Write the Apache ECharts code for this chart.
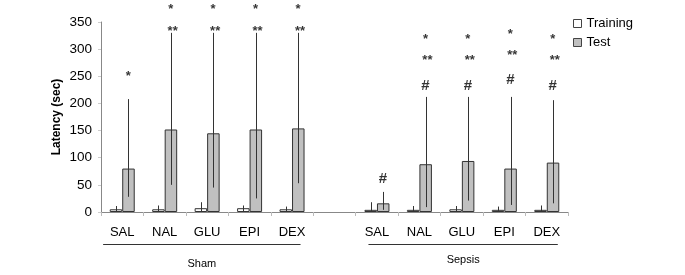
<!DOCTYPE html>
<html><head><meta charset="utf-8">
<script src="https://cdn.jsdelivr.net/npm/echarts@6/dist/echarts.min.js"></script>
<style>html,body{margin:0;padding:0;background:#fff}#c{width:685px;height:275px}</style>
</head><body><div id="c"></div>
<script>
var categories = ['SAL','NAL','GLU','EPI','DEX','','SAL','NAL','GLU','EPI','DEX'];
var training      = [5, 5, 7, 7, 5, null, 4, 4, 5, 4, 4];
var trainingLow   = [0, 0, 0, 0, 0, null, 0, 0, 0, 0, 0];
var trainingHigh  = [11, 12, 18, 12, 10, null, 18, 11, 11, 10, 12];
var test          = [80, 152, 145, 152, 154, null, 16, 88, 94, 80, 91];
var testLow       = [28, 50, 45, 25, 53, null, 4, 9, 21, 13, 16];
var testHigh      = [208, 330, 330, 330, 330, null, 37, 212, 212, 212, 206];
var star1Y = [250, 373, 373, 373, 373, null, null, 318, 318, 328, 318];
var star2Y = [null, 333, 333, 333, 333, null, null, 279, 279, 289, 279];
var hashY  = [null, null, null, null, null, null, 61, 232, 232, 243, 232];
var yTicks = [0, 50, 100, 150, 200, 250, 300, 350];
var groups = [{name:'Sham', from:0, to:4}, {name:'Sepsis', from:6, to:10}];

var chart = echarts.init(document.getElementById('c'));
var font = 'Liberation Sans, Arial, sans-serif';
var BW = 12.5;

function errSeries(low, high, offset) {
  var data = [];
  for (var i = 0; i < low.length; i++) if (low[i] != null) data.push([i, low[i], high[i]]);
  return {
    type: 'custom', silent: true, z: 5,
    data: data,
    renderItem: function (params, api) {
      var p1 = api.coord([api.value(0), api.value(1)]);
      var p2 = api.coord([api.value(0), api.value(2)]);
      var x = Math.round(p1[0] + offset) + 0.5;
      return { type: 'line', shape: {x1: x, y1: p1[1], x2: x, y2: p2[1]},
               style: {stroke: '#333', lineWidth: 1} };
    }
  };
}
function annSeries(vals, text, size, dx) {
  var data = [];
  for (var i = 0; i < vals.length; i++) if (vals[i] != null) data.push([i, vals[i]]);
  return {
    type: 'scatter', symbolSize: 0, clip: false, silent: true, data: data, z: 6,
    label: {show: true, position: 'inside', formatter: text, offset: [dx, 0],
            fontFamily: font, fontWeight: 'bold', fontSize: size, color: '#000'}
  };
}

chart.setOption({
  animation: false,
  grid: {left: 101, right: 117, top: 22, bottom: 63},
  legend: {
    orient: 'vertical', left: 568, top: 12, itemWidth: 8, itemHeight: 8, itemGap: 6,
    icon: 'rect', itemStyle: {borderWidth: 1, borderColor: '#444'},
    textStyle: {fontFamily: font, fontSize: 13, color: '#000'},
    data: ['Training', 'Test']
  },
  xAxis: {
    type: 'category', data: categories,
    axisLine: {lineStyle: {color: '#888'}},
    axisTick: {show: true, interval: 0, length: 4, lineStyle: {color: '#bbb'}},
    axisLabel: {interval: 0, margin: 14, fontFamily: font, fontSize: 13, color: '#000'}
  },
  yAxis: {
    type: 'value', min: 0, max: 350, interval: 50,
    name: 'Latency (sec)', nameLocation: 'middle', nameGap: 38, nameRotate: 90,
    nameMoveOverlap: false,
    nameTextStyle: {fontFamily: font, fontSize: 12, fontWeight: 'bold', color: '#000'},
    axisLine: {show: true, lineStyle: {color: '#888'}},
    axisTick: {show: true, length: 3, lineStyle: {color: '#ccc'}},
    splitLine: {show: false},
    axisLabel: {fontFamily: font, fontSize: 13.5, color: '#000', margin: 9,
      formatter: function (v) { return yTicks.indexOf(v) >= 0 ? String(v) : ''; }}
  },
  series: [
    {name: 'Training', type: 'bar', data: training, barWidth: BW, barGap: '0%',
     itemStyle: {color: '#fff', borderColor: '#333', borderWidth: 1}},
    {name: 'Test', type: 'bar', data: test, barWidth: BW, barGap: '0%',
     itemStyle: {color: '#c0c0c0', borderColor: '#333', borderWidth: 1}},
    errSeries(trainingLow, trainingHigh, -BW / 2),
    errSeries(testLow, testHigh, BW / 2),
    annSeries(star1Y, '*', 13, 6),
    annSeries(star2Y, '**', 13, 8),
    annSeries(hashY, '#', 15, 6)
  ]
});

var bw = chart.convertToPixel({xAxisIndex: 0}, 1) - chart.convertToPixel({xAxisIndex: 0}, 0);
var graphics = [];
groups.forEach(function (g, k) {
  var x1 = chart.convertToPixel({xAxisIndex: 0}, g.from) - bw * (k === 0 ? 0.45 : 0.2);
  var x2 = chart.convertToPixel({xAxisIndex: 0}, g.to) + bw * (k === 0 ? 0.2 : 0.26);
  graphics.push({type: 'line', shape: {x1: x1, y1: 244.5, x2: x2, y2: 244.5},
                 style: {stroke: '#333', lineWidth: 1}});
  graphics.push({type: 'text', x: (x1 + x2) / 2, y: k === 0 ? 264 : 260,
                 style: {text: g.name, fontFamily: font, fontSize: 11, fill: '#000',
                         textAlign: 'center', textVerticalAlign: 'middle'}});
});
chart.setOption({graphic: graphics});
</script></body></html>
